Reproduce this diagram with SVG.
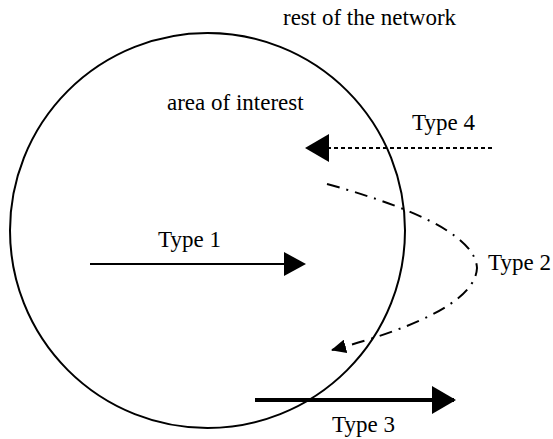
<svg xmlns="http://www.w3.org/2000/svg" width="553" height="439" viewBox="0 0 553 439">
<style>
text{font-family:'Liberation Serif','Times New Roman',Tinos,'DejaVu Serif',serif;font-size:23px;fill:#000}
.ln{fill:none;stroke:#000}
</style>
<defs>
<marker id="ah" markerUnits="userSpaceOnUse" markerWidth="22" markerHeight="24" refX="20" refY="12" orient="auto" viewBox="0 0 22 24">
<path d="M0,0 L22,12 L0,24 z" fill="#000"/>
</marker>
<marker id="ahL" markerUnits="userSpaceOnUse" markerWidth="24" markerHeight="28" refX="22" refY="14" orient="auto" viewBox="0 0 24 28">
<path d="M0,0 L24,14 L0,28 z" fill="#000"/>
</marker>
<marker id="ahS" markerUnits="userSpaceOnUse" markerWidth="15" markerHeight="14" refX="14" refY="7" orient="auto" viewBox="0 0 15 14">
<path d="M0,0 L15,7 L0,14 z" fill="#000"/>
</marker>
</defs>
<g id="area">
<circle cx="207.5" cy="230.5" r="197.5" class="ln" stroke-width="2"/>
</g>
<g id="labels" font-family="Liberation Serif, serif">
<text x="283" y="25">rest of the network</text>
<text x="167" y="110">area of interest</text>
</g>
<g id="connectors" font-family="Liberation Serif, serif">
<g id="type4">
<line x1="492" y1="148" x2="307" y2="148" class="ln" stroke-width="2" stroke-dasharray="4,3" marker-end="url(#ahL)"/>
<text x="412" y="130">Type 4</text>
</g>
<g id="type1">
<line x1="90" y1="264" x2="304" y2="264" class="ln" stroke-width="2" marker-end="url(#ah)"/>
<text x="158" y="247">Type 1</text>
</g>
<g id="type2">
<path d="M327,184 Q475,225 477,268 Q475,312 332,350" class="ln" stroke-width="2" stroke-dasharray="13,7,2,7" marker-end="url(#ahS)"/>
<text x="488" y="270">Type 2</text>
</g>
<g id="type3">
<line x1="255" y1="400" x2="454" y2="400" class="ln" stroke-width="4" marker-end="url(#ahL)"/>
<text x="332" y="432">Type 3</text>
</g>
</g>
</svg>
